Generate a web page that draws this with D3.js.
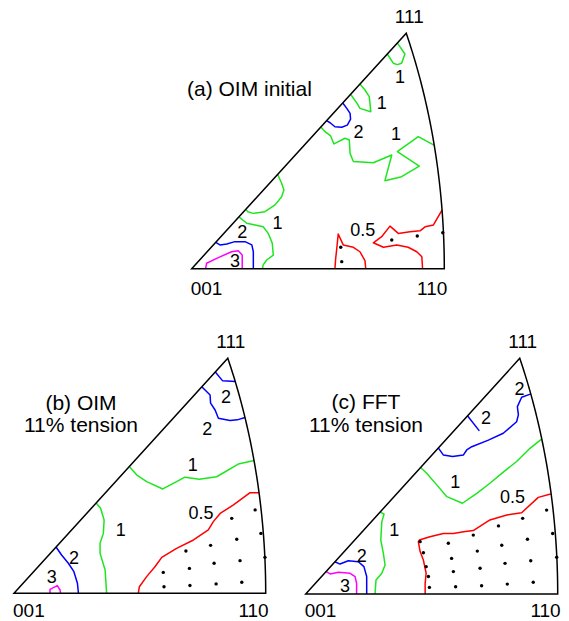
<!DOCTYPE html>
<html>
    <head>
        <style>
body { margin: 0; background: #fff; }
#chart svg { display: block; }
text { font-family: "Liberation Sans", Arial, sans-serif; fill: #000; }
.edge { fill: none; stroke: #000; stroke-width: 1.5; }
.contour { fill: none; stroke-width: 1.5; stroke-linejoin: round; }
        </style>
    </head>
    <body>
        <div id="chart"></div>
        <script src="https://d3js.org/d3.v7.min.js"></script>
        <script>
// corners of the standard triangle and contour levels
const vertexLabels = ["001", "110", "111"]
const levels = ["0.5", "1", "2", "3"]

// contour lines, in triangle units (001-110 = 100, height to 111 = 100)
const contoursA = [
    {level: "1", pts: [[81.4,95.9],[84.4,91.2],[83.1,87.3],[81.4,86.7],[79.8,87.3],[77.4,91.2]]},
    {level: "1", pts: [[66.6,78.5],[68.6,75.9],[70.3,73.1],[70.9,66.7],[66.6,68.1],[65.6,70.0],[62.9,74.1]]},
    {level: "2", pts: [[59.8,70.4],[61.4,68.1],[62.7,66.0],[62.9,63.5],[61.6,61.0],[59.4,60.1],[56.7,60.3],[54.8,62.0],[53.4,62.9]]},
    {level: "1", pts: [[51.1,60.2],[52.8,58.2],[55.0,56.4],[56.3,53.0],[60.7,55.4],[62.4,54.7],[62.7,49.0],[64.0,45.5],[71.9,45.0],[79.2,48.3],[76.5,37.4],[83.1,39.1],[90.1,43.6],[81.4,49.7],[89.7,56.1],[95.9,52.5]]},
    {level: "1", pts: [[34.0,40.1],[35.6,36.3],[36.5,33.4],[35.6,30.6],[33.0,27.1],[29.0,24.2],[24.4,23.5],[22.2,24.2],[21.4,25.2]]},
    {level: "1", pts: [[18.7,22.0],[21.8,19.3],[25.1,18.6],[28.3,17.8],[30.3,15.0],[31.9,10.8],[32.3,5.8],[29.7,3.7],[28.3,1.6],[28.0,0]]},
    {level: "2", pts: [[9.5,11.2],[11.2,10.1],[13.9,10.5],[17.1,11.5],[21.1,11.5],[23.8,10.1],[24.4,7.2],[24.4,3.7],[24.4,0]]},
    {level: "3", pts: [[5.5,0],[5.9,2.3],[9.9,4.4],[15.8,7.2],[18.4,7.6],[20.0,5.8],[20.0,0]]},
    {level: "0.5", pts: [[56.7,0],[57.0,4.4],[57.4,8.2],[58.0,14.7],[60.0,10.1],[64.0,9.1],[66.6,7.2],[68.6,3.4],[68.9,0]]},
    {level: "0.5", pts: [[91.4,0],[91.1,5.1],[89.1,7.2],[85.7,9.1],[81.2,10.1],[75.9,9.1],[71.9,11.0],[75.2,13.6],[78.5,18.1],[81.8,15.0],[86.4,15.7],[90.4,16.1],[92.4,17.8],[95.7,18.6],[99.1,24.9]]}
]
const contoursB = [
    {level: "2", pts: [[79.9,94.3],[82.9,90.4],[88.0,90.1]]},
    {level: "2", pts: [[74.6,87.9],[75.9,86.5],[77.9,84.4],[78.1,80.9],[79.9,78.0],[81.2,74.5],[85.8,73.5],[88.7,73.8],[91.8,74.8]]},
    {level: "1", pts: [[45.8,54.0],[48.7,50.4],[52.7,47.5],[59.1,44.4],[63.3,46.8],[67.9,49.4],[73.6,48.5],[80.5,49.6],[89.1,55.0],[95.4,56.5]]},
    {level: "1", pts: [[32.6,38.4],[34.4,36.2],[35.8,31.2],[35.5,25.5],[34.2,21.3],[34.2,17.0],[36.2,9.9],[36.8,0]]},
    {level: "2", pts: [[16.7,19.7],[18.9,16.3],[21.6,12.8],[23.8,9.2],[25.2,4.3],[25.6,0]]},
    {level: "3", pts: [[14.3,0],[14.3,1.7],[17.2,3.3],[18.3,1.4],[18.5,0]]},
    {level: "0.5", pts: [[49.4,0],[49.8,2.8],[52.7,7.1],[56.0,11.3],[58.7,15.3],[64.6,19.1],[71.3,22.7],[77.2,27.0],[79.2,30.5],[81.9,34.0],[87.2,37.6],[93.8,42.8],[97.3,42.8]]}
]
const contoursC = [
    {level: "2", pts: [[64.2,75.6],[68.9,69.2]], thick: true},
    {level: "2", pts: [[52.6,62.0],[54.6,59.0],[58.3,58.3],[62.6,59.0],[63.9,61.1],[65.9,62.5],[72.5,65.3],[78.4,68.2],[83.7,73.1],[84.4,76.0],[84.0,79.5],[85.7,83.5],[89.4,84.9]]},
    {level: "1", pts: [[45.6,53.7],[48.0,51.2],[52.0,46.3],[56.0,41.3],[62.2,38.5],[67.9,42.7],[73.1,47.0],[77.8,51.2],[83.7,56.2],[89.0,61.8],[93.7,65.8]]},
    {level: "1", pts: [[29.5,34.8],[31.1,33.9],[30.2,30.7],[29.8,22.9],[30.8,17.3],[31.5,12.3],[30.2,8.8],[27.9,5.9],[27.5,0]]},
    {level: "2", pts: [[11.6,13.7],[13.6,12.7],[16.9,14.1],[20.9,13.7],[23.1,11.6],[24.2,7.4],[24.2,0]]},
    {level: "3", pts: [[8.1,9.5],[9.7,8.5],[13.0,9.2],[17.6,8.8],[19.6,7.4],[20.2,4.5],[20.2,0]]},
    {level: "0.5", pts: [[47.4,0],[47.4,4.5],[47.8,8.8],[46.7,14.4],[45.4,18.0],[44.7,22.2],[45.1,22.9],[49.3,24.3],[54.6,25.7],[58.6,25.7],[62.6,26.4],[66.5,26.9],[73.1,31.4],[79.8,33.5],[85.7,34.5],[92.3,41.0],[97.2,42.4]]}
]

// grid points below 0.5
const dotsA = [[59.0,9.1],[59.4,3.0],[79.2,12.2],[89.3,13.9],[99.4,15.3]]
const dotsB = [[95.8,35.5],[86.5,31.9],[98.1,25.5],[78.1,20.4],[88.5,23.0],[68.3,18.0],[99.7,15.3],[79.5,12.8],[89.8,13.9],[69.7,10.6],[59.3,8.9],[59.6,2.8],[69.9,3.3],[80.3,4.0],[90.5,4.7]]
const dotsC = [[45.4,22.2],[95.6,35.6],[86.1,32.1],[76.5,28.9],[66.5,25.0],[56.6,21.5],[98.0,25.7],[88.0,23.2],[77.8,20.7],[68.1,18.2],[46.7,17.5],[57.9,15.1],[99.6,15.6],[89.3,14.1],[79.1,13.0],[69.2,10.9],[47.8,11.6],[58.6,9.5],[48.7,7.4],[49.1,2.8],[59.5,3.1],[69.8,3.5],[80.0,4.2],[90.3,5.0]]

// contour value labels
const labelsA = [["1",82.5,81.6],["1",75.2,70.5],["2",66.0,58.2],["1",80.9,57.5],["1",34.0,19.5],["2",20.0,15.7],["3",17.1,3.3],["0.5",67.7,16.7]]
const labelsB = [["2",84.2,83.7],["2",76.8,70.2],["1",71.0,54.6],["1",42.4,27.2],["2",23.8,15.3],["3",15.0,7.1],["0.5",74.3,34.3]]
const labelsC = [["2",84.8,87.3],["2",71.6,75.0],["1",59.3,47.7],["0.5",82.1,41.3],["1",35.1,27.4],["2",22.2,16.5],["3",15.6,3.8]]

const titlesA = ["(a) OIM initial"]
const titlesB = ["(b) OIM", "11% tension"]
const titlesC = ["(c) FFT", "11% tension"]

const color = d3.scaleOrdinal()
    .domain(levels)
    .range(["#ff0000", "#1ee61e", "#0000ff", "#ff00ff"])

// equal area projection, normalised so that 110 -> (100,0) and 111 has height 100
const eqArea = (h, k, l) => {
    const n = Math.hypot(h, k, l)
    const th = Math.acos(l / n), ph = Math.atan2(k, h)
    const r = 2 * Math.sin(th / 2)
    return [r * Math.cos(ph), r * Math.sin(ph)]
}
const r110 = eqArea(1, 0, 1)[0]
const h111 = eqArea(1, 1, 1)[1]
const proj = (h, k, l) => {
    const p = eqArea(h, k, l)
    return [p[0] / r110 * 100, p[1] / h111 * 100]
}
const outline = [[0, 0]].concat(d3.range(0, 1.0001, 0.02).map(t => proj(1, t, 1)))

const panels = [
    {x0: 191.7, y0: 268.7, w: 252.6, h: 235.4, contours: contoursA, dots: dotsA, labels: labelsA,
        titles: titlesA, tx: 187, ty: [96], anchor: "start"},
    {x0: 14, y0: 593.3, w: 251.7, h: 235, contours: contoursB, dots: dotsB, labels: labelsB,
        titles: titlesB, tx: 81, ty: [410, 432], anchor: "middle"},
    {x0: 305.7, y0: 594, w: 252, h: 235.7, contours: contoursC, dots: dotsC, labels: labelsC,
        titles: titlesC, tx: 366, ty: [409, 432], anchor: "middle"}
]

const svg = d3.select("#chart").append("svg")
    .attr("width", 569)
    .attr("height", 621)

panels.forEach(p => {
    const x = d3.scaleLinear().domain([0, 100]).range([p.x0, p.x0 + p.w])
    const y = d3.scaleLinear().domain([0, 100]).range([p.y0, p.y0 - p.h])
    const line = d3.line().x(d => x(d[0])).y(d => y(d[1]))
    const g = svg.append("g")

    g.selectAll(".contour")
        .data(p.contours)
        .enter()
        .append("path")
        .attr("class", "contour")
        .attr("d", d => line(d.pts))
        .attr("stroke", d => color(d.level))
        .attr("stroke-width", d => d.thick ? 3 : 1.5)

    g.append("path")
        .attr("class", "edge")
        .attr("d", line(outline) + "Z")

    g.selectAll("circle")
        .data(p.dots)
        .enter()
        .append("circle")
        .attr("cx", d => x(d[0]))
        .attr("cy", d => y(d[1]))
        .attr("r", 1.7)
        .attr("fill", "#000")

    g.selectAll(".lab")
        .data(p.labels)
        .enter()
        .append("text")
        .attr("class", "lab")
        .attr("x", d => x(d[1]))
        .attr("y", d => y(d[2]))
        .attr("dy", "0.36em")
        .attr("text-anchor", "middle")
        .style("font-size", "18px")
        .text(d => d[0])

    // corner labels
    const top = proj(1, 1, 1)
    const base = Math.min(y(0) + 26, 617)
    g.append("text").attr("x", x(0) - 1).attr("y", base)
        .style("font-size", "19px").text(vertexLabels[0])
    g.append("text").attr("x", x(100) + 3).attr("y", base)
        .attr("text-anchor", "end").style("font-size", "19px").text(vertexLabels[1])
    g.append("text").attr("x", x(top[0]) + 3).attr("y", y(100) - 10)
        .attr("text-anchor", "middle").style("font-size", "19px").text(vertexLabels[2])

    g.selectAll(".title")
        .data(p.titles)
        .enter()
        .append("text")
        .attr("class", "title")
        .attr("x", p.tx)
        .attr("y", (d, i) => p.ty[i])
        .attr("text-anchor", p.anchor)
        .style("font-size", "21px")
        .text(d => d)
})
        </script>
    </body>
</html>
